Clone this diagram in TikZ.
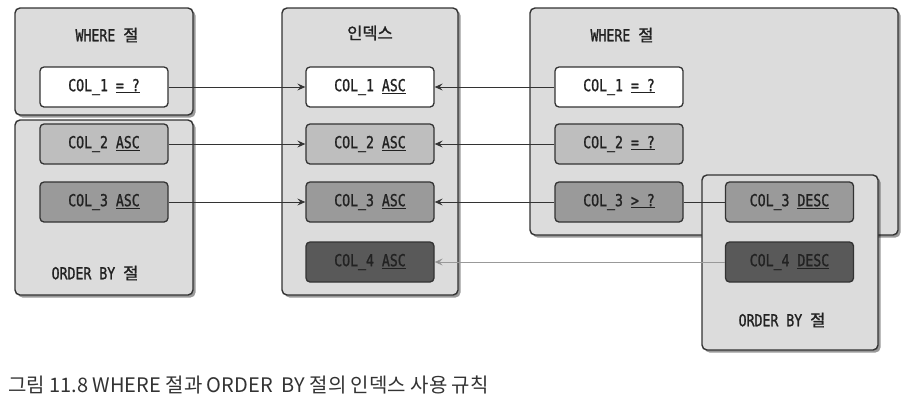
\documentclass[tikz,border=0pt]{standalone}
\usepackage{fontspec}
\setmainfont{DejaVu Sans Mono}
\newfontfamily\boxfont[FakeStretch=0.8,FakeBold=1.2]{DejaVu Sans Mono}
\newfontfamily\kr[FakeBold=1.2]{Noto Sans CJK KR}
\newfontfamily\capfont{Noto Sans CJK KR}
\usetikzlibrary{shadows,arrows.meta}
\definecolor{edge}{HTML}{333333}
\definecolor{panel}{HTML}{DCDCDC}
\definecolor{cone}{HTML}{FFFFFF}
\definecolor{ctwo}{HTML}{BEBEBE}
\definecolor{cthree}{HTML}{9A9A9A}
\definecolor{cfour}{HTML}{595959}
\definecolor{txt}{HTML}{222222}
\definecolor{grayline}{HTML}{999999}
\tikzset{
  panelbox/.style={draw=edge, line width=1.4pt, rounded corners=5pt, fill=panel,
    drop shadow={shadow xshift=2.5pt, shadow yshift=-2.5pt, fill=black, opacity=0.4},
    inner sep=0pt},
  colbox/.style={draw=edge, line width=1.3pt, rounded corners=4pt, minimum width=128pt,
    minimum height=40pt, inner sep=0pt, text=txt, font=\boxfont\fontsize{16.5}{19}\selectfont},
  lbl/.style={text=txt, font=\boxfont\fontsize{16.5}{19}\selectfont, inner sep=0pt},
  conn/.style={draw=edge, line width=1pt},
  arr/.style={conn, -{Stealth[length=8pt,width=7pt,inset=3pt]}},
}
\begin{document}
\begin{tikzpicture}[x=1pt,y=-1pt]
\useasboundingbox[fill=white] (0,0) rectangle (910,416);
% panels
\node[panelbox, minimum width=178pt, minimum height=107pt] (lw) at (104,61.5) {};
\node[panelbox, minimum width=178pt, minimum height=175pt] (lo) at (104,207.5) {};
\node[panelbox, minimum width=176pt, minimum height=287pt] (ix) at (370,151.5) {};
\node[panelbox, minimum width=368pt, minimum height=227pt] (rw) at (714,121.5) {};
\node[panelbox, minimum width=176pt, minimum height=175pt] (ro) at (790,262.5) {};
% panel labels
\node[lbl] (lwl) at (107,35) {WHERE {\kr 절}};
\node[lbl] (lol) at (95,273) {ORDER BY {\kr 절}};
\node[lbl] (ixl) at (370,33) {\kr 인덱스};
\node[lbl] (rwl) at (622,35) {WHERE {\kr 절}};
\node[lbl] (rol) at (782,320) {ORDER BY {\kr 절}};
% left boxes
\node[colbox, fill=cone] (l1) at (104,87) {COL\_1 \underline{= ?}};
\node[colbox, fill=ctwo] (l2) at (104,144) {COL\_2 \underline{ASC}};
\node[colbox, fill=cthree] (l3) at (104,202) {COL\_3 \underline{ASC}};
% index boxes
\node[colbox, fill=cone] (i1) at (370,87) {COL\_1 \underline{ASC}};
\node[colbox, fill=ctwo] (i2) at (370,144) {COL\_2 \underline{ASC}};
\node[colbox, fill=cthree] (i3) at (370,202) {COL\_3 \underline{ASC}};
\node[colbox, fill=cfour] (i4) at (370,262) {COL\_4 \underline{ASC}};
% right where boxes
\node[colbox, fill=cone] (r1) at (619,87) {COL\_1 \underline{= ?}};
\node[colbox, fill=ctwo] (r2) at (619,144) {COL\_2 \underline{= ?}};
\node[colbox, fill=cthree] (r3) at (619,202) {COL\_3 \underline{> ?}};
% right order boxes
\node[colbox, fill=cthree] (o3) at (789.5,202) {COL\_3 \underline{DESC}};
\node[colbox, fill=cfour] (o4) at (789.5,262) {COL\_4 \underline{DESC}};
% connectors
\draw[arr] (l1) -- (i1);
\draw[arr] (l2) -- (i2);
\draw[arr] (l3) -- (i3);
\draw[arr] (r1) -- (i1);
\draw[arr] (r2) -- (i2);
\draw[arr] (r3) -- (i3);
\draw[conn] (r3) -- (o3);
\draw[arr, draw=grayline, -{Stealth[length=8pt,width=7pt,inset=3pt,fill=edge]}] (o4) -- (i4);
% caption
\node[anchor=west, inner sep=0pt, text=edge, font=\capfont\fontsize{20}{24}\selectfont] (cap) at (8,385)
  {그림 11.8 WHERE 절과 ORDER\ \ BY 절의 인덱스 사용 규칙};
\end{tikzpicture}
\end{document}
